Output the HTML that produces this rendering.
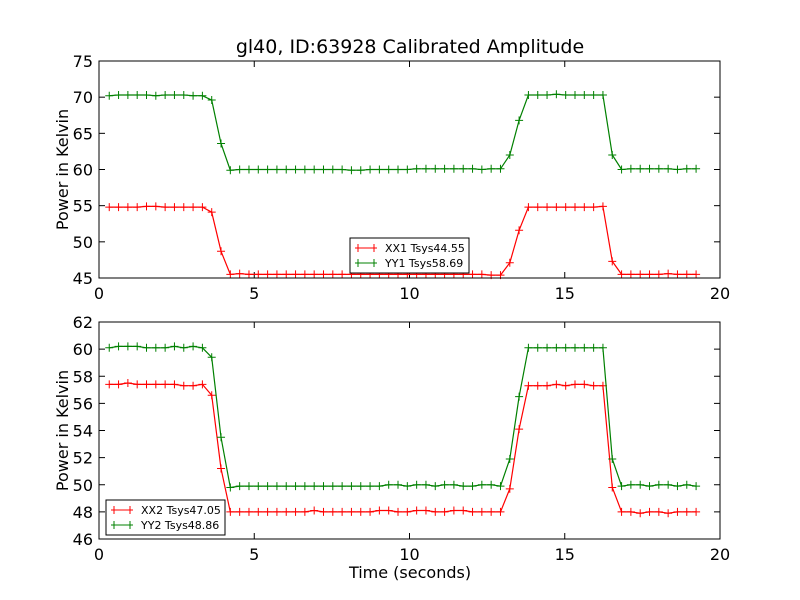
<!DOCTYPE html>
<html><head><meta charset="utf-8"><style>
body{margin:0;background:#fff;}
svg{display:block;font-family:"DejaVu Sans","Liberation Sans",sans-serif;}
</style></head><body>
<svg id="chart" width="800" height="600" viewBox="0 0 800 600"></svg>
<script>
const times = [0.33,0.63,0.93,1.23,1.53,1.83,2.13,2.43,2.73,3.03,3.33,3.63,3.93,4.23,4.53,4.83,5.13,5.43,5.73,6.03,6.33,6.63,6.93,7.23,7.53,7.83,8.13,8.43,8.73,9.03,9.33,9.63,9.93,10.23,10.53,10.83,11.13,11.43,11.73,12.03,12.33,12.63,12.93,13.23,13.53,13.83,14.13,14.43,14.73,15.03,15.33,15.63,15.93,16.23,16.53,16.83,17.13,17.43,17.73,18.03,18.33,18.63,18.93,19.23];
const xx1 = [54.8,54.8,54.8,54.8,54.9,54.9,54.8,54.8,54.8,54.8,54.8,54.1,48.7,45.5,45.6,45.5,45.5,45.5,45.5,45.5,45.5,45.5,45.5,45.5,45.5,45.5,45.5,45.5,45.5,45.5,45.5,45.5,45.5,45.5,45.5,45.5,45.5,45.5,45.5,45.5,45.5,45.4,45.4,47.1,51.6,54.8,54.8,54.8,54.8,54.8,54.8,54.8,54.8,54.9,47.3,45.5,45.5,45.5,45.5,45.5,45.6,45.5,45.5,45.5];
const yy1 = [70.2,70.3,70.3,70.3,70.3,70.2,70.3,70.3,70.3,70.2,70.2,69.6,63.6,59.9,60.0,60.0,60.0,60.0,60.0,60.0,60.0,60.0,60.0,60.0,60.0,60.0,59.9,59.9,60.0,60.0,60.0,60.0,60.0,60.1,60.1,60.1,60.1,60.1,60.1,60.1,60.0,60.1,60.1,62.0,66.8,70.3,70.3,70.3,70.4,70.3,70.3,70.3,70.3,70.3,62.0,60.0,60.1,60.1,60.1,60.1,60.1,60.0,60.1,60.1];
const xx2 = [57.4,57.4,57.5,57.4,57.4,57.4,57.4,57.4,57.3,57.3,57.4,56.6,51.2,48.0,48.0,48.0,48.0,48.0,48.0,48.0,48.0,48.0,48.1,48.0,48.0,48.0,48.0,48.0,48.0,48.1,48.1,48.0,48.0,48.1,48.1,48.0,48.0,48.1,48.1,48.0,48.0,48.0,48.0,49.7,54.1,57.3,57.3,57.3,57.4,57.3,57.4,57.4,57.3,57.3,49.8,48.0,48.0,47.9,48.0,48.0,47.9,48.0,48.0,48.0];
const yy2 = [60.1,60.2,60.2,60.2,60.1,60.1,60.1,60.2,60.1,60.2,60.1,59.4,53.5,49.8,49.9,49.9,49.9,49.9,49.9,49.9,49.9,49.9,49.9,49.9,49.9,49.9,49.9,49.9,49.9,49.9,50.0,50.0,49.9,50.0,50.0,49.9,50.0,50.0,49.9,49.9,50.0,50.0,49.9,51.9,56.5,60.1,60.1,60.1,60.1,60.1,60.1,60.1,60.1,60.1,51.9,49.9,50.0,50.0,49.9,50.0,50.0,49.9,50.0,49.9];
const xTicks = [0,5,10,15,20];
const topYTicks = [45,50,55,60,65,70,75];
const botYTicks = [46,48,50,52,54,56,58,60,62];
const legendTop = ["XX1 Tsys44.55","YY1 Tsys58.69"];
const legendBot = ["XX2 Tsys47.05","YY2 Tsys48.86"];

const NS="http://www.w3.org/2000/svg";
const svg=document.getElementById('chart');
function mk(tag,attrs,parent,name){const e=document.createElementNS(NS,tag);for(const k in attrs)e.setAttribute(k,attrs[k]);


(parent||svg).appendChild(e);return e;}

function panel(p){
  const g=mk('g',{},svg,p.name);
  const L=99,R=720,T=p.top,B=p.bottom;
  const xs=v=>L+(v-0)/(20-0)*(R-L);
  const ys=v=>B-(v-p.ymin)/(p.ymax-p.ymin)*(B-T);
  // ticks
  xTicks.forEach(t=>{const x=xs(t);
    mk('line',{x1:x,x2:x,y1:B,y2:B-6,stroke:'#000'},g,'x-tick');
    mk('line',{x1:x,x2:x,y1:T,y2:T+6,stroke:'#000'},g,'x-tick-top');
    const tx=mk('text',{x:x,y:B+21,'text-anchor':'middle','font-size':16},g,'x-tick-label');tx.textContent=t;});
  p.yticks.forEach(t=>{const y=ys(t);
    mk('line',{x1:L,x2:L+6,y1:y,y2:y,stroke:'#000'},g,'y-tick');
    mk('line',{x1:R,x2:R-6,y1:y,y2:y,stroke:'#000'},g,'y-tick-right');
    const tx=mk('text',{x:L-6,y:y+6,'text-anchor':'end','font-size':16},g,'y-tick-label');tx.textContent=t;});
  // series
  p.series.forEach(s=>{
    const pts=times.map((t,i)=>xs(t).toFixed(1)+','+ys(s.v[i]).toFixed(1)).join(' ');
    mk('polyline',{points:pts,fill:'none',stroke:s.c,'stroke-width':1.2},g,s.name+'-line');
    times.forEach((t,i)=>{const x=xs(t),y=ys(s.v[i]);
      mk('path',{d:`M${x-4},${y}H${x+4}M${x},${y-4}V${y+4}`,stroke:s.c,'stroke-width':1},g,s.name+'-marker');});
  });
  mk('rect',{x:L,y:T,width:R-L,height:B-T,fill:'none',stroke:'#000','stroke-width':1},g,'plot-frame');
  const yl=mk('text',{x:0,y:0,'text-anchor':'middle','font-size':16,transform:`translate(68,${(T+B)/2}) rotate(-90)`},g,'y-axis-title');yl.textContent='Power in Kelvin';
  // legend
  const lg=mk('g',{},g,'legend');
  mk('rect',{x:p.lx,y:p.ly,width:119,height:35,fill:'#fff',stroke:'#000','stroke-width':1},lg,'legend-box');
  p.series.forEach((s,i)=>{const y=p.ly+10+i*15;
    mk('line',{x1:p.lx+5,x2:p.lx+27,y1:y,y2:y,stroke:s.c},lg,'legend-line');
    mk('path',{d:`M${p.lx+8},${y-4}V${y+4}M${p.lx+24},${y-4}V${y+4}`,stroke:s.c},lg,'legend-marker');
    const tx=mk('text',{x:p.lx+35,y:y+4,'font-size':11},lg,'legend-entry');tx.textContent=p.legend[i];});
}
panel({name:'top-panel',top:61,bottom:278,ymin:45,ymax:75,yticks:topYTicks,lx:350,ly:238,legend:legendTop,
  series:[{name:'xx1',v:xx1,c:'#ff0000'},{name:'yy1',v:yy1,c:'#008000'}]});
panel({name:'bottom-panel',top:322,bottom:539,ymin:46,ymax:62,yticks:botYTicks,lx:106,ly:500,legend:legendBot,
  series:[{name:'xx2',v:xx2,c:'#ff0000'},{name:'yy2',v:yy2,c:'#008000'}]});
const title=mk('text',{x:410,y:53,'text-anchor':'middle','font-size':19},svg,'chart-title');title.textContent='gl40, ID:63928 Calibrated Amplitude';
const xt=mk('text',{x:410,y:578,'text-anchor':'middle','font-size':16},svg,'x-axis-title');xt.textContent='Time (seconds)';
</script>
</body></html>
